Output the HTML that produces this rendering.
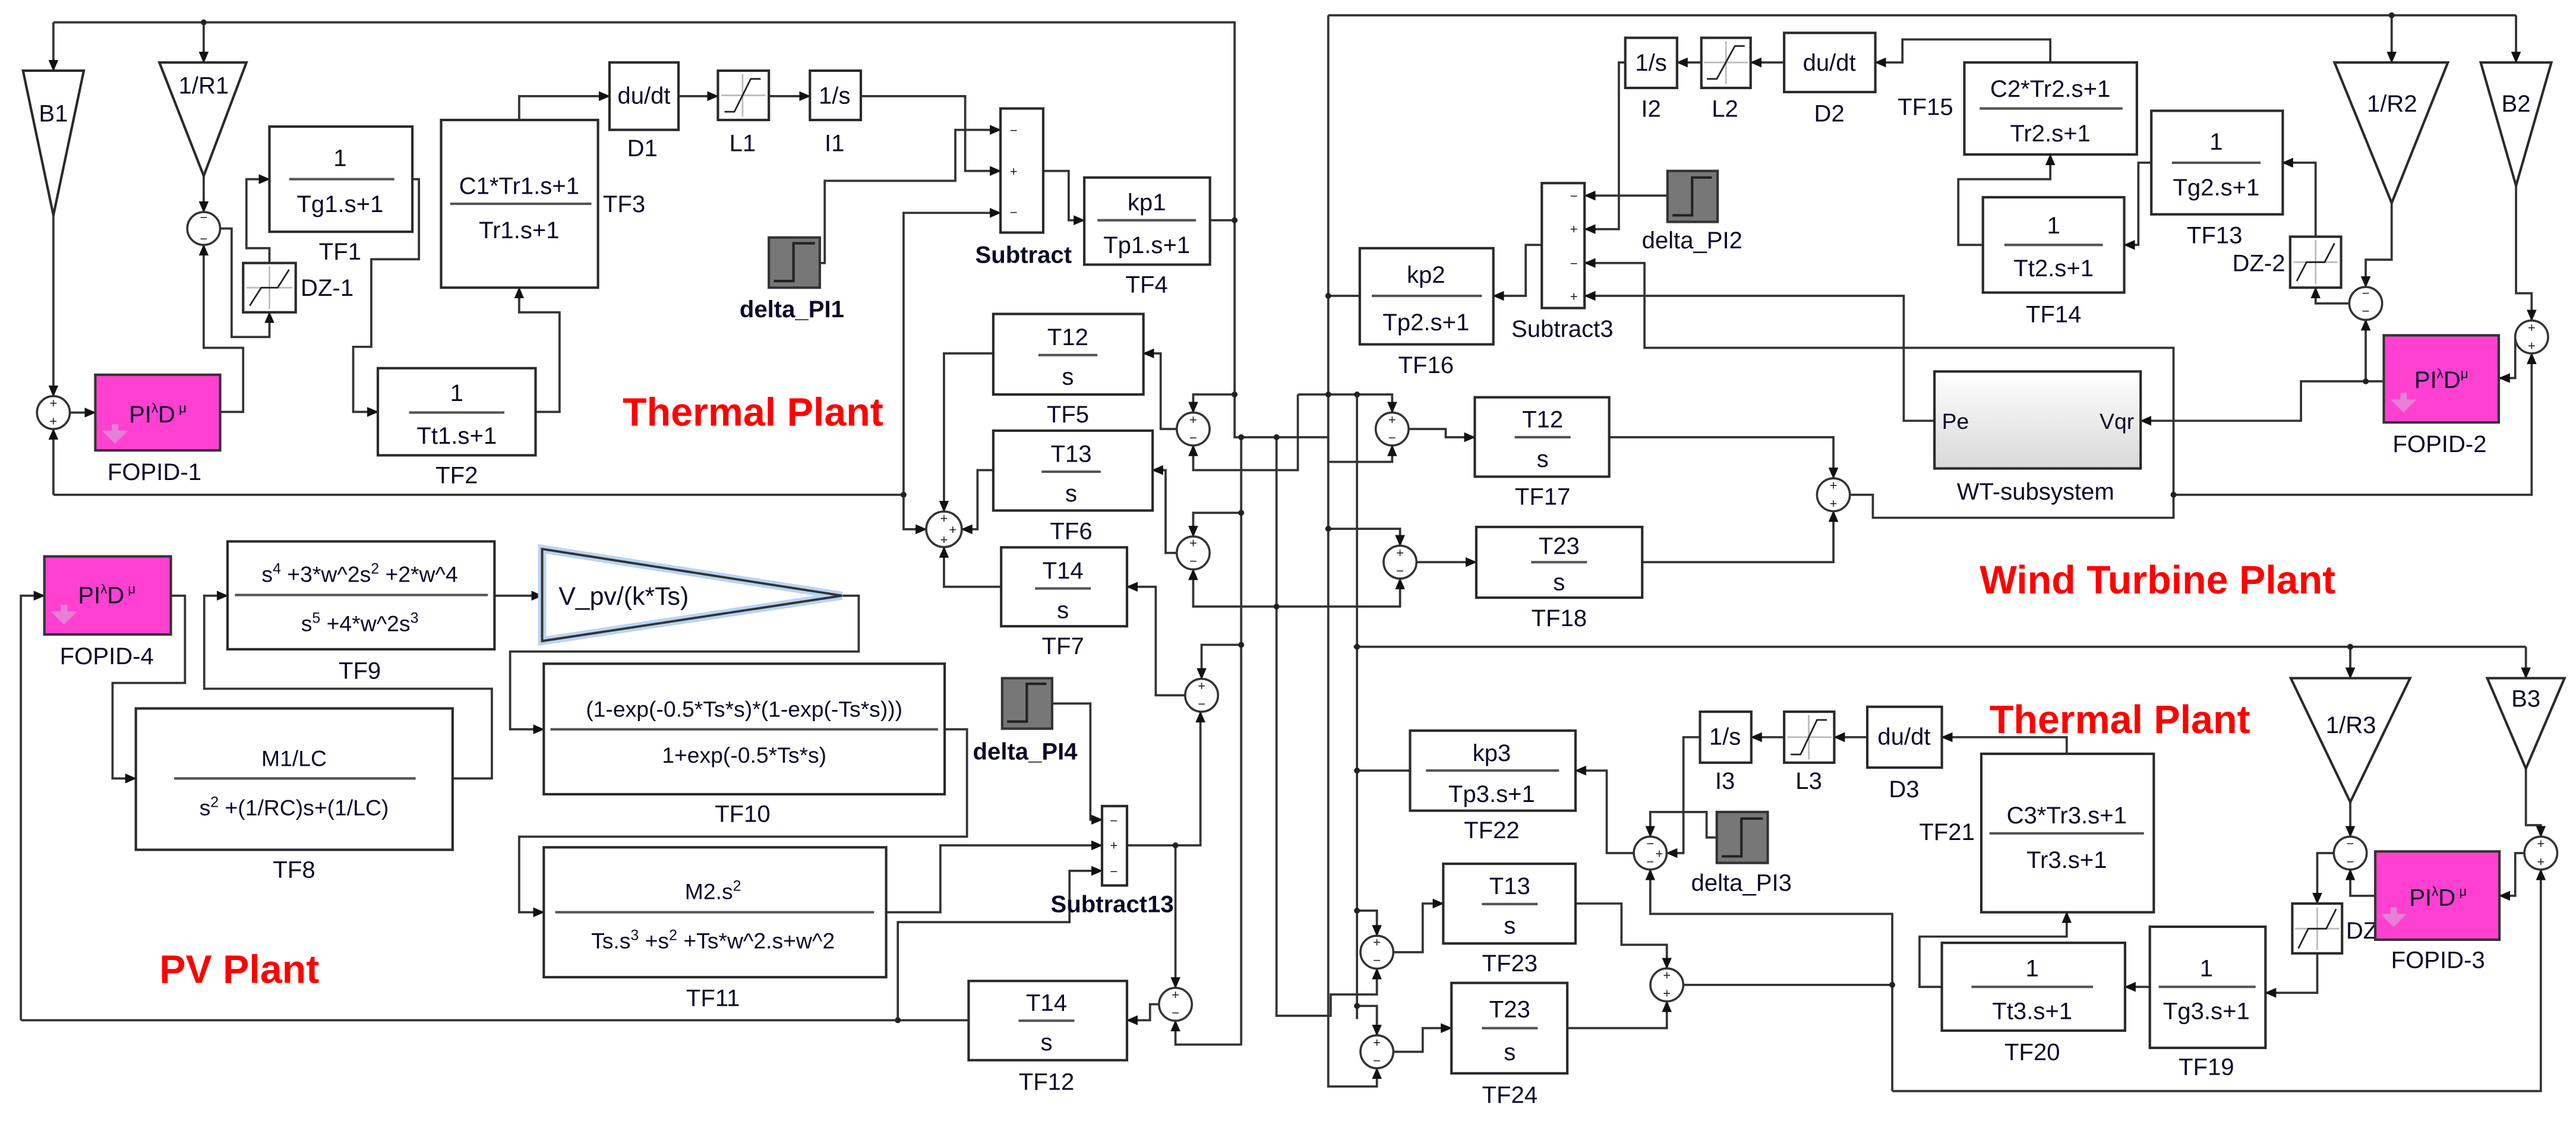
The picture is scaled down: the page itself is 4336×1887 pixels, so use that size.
<!DOCTYPE html>
<html><head><meta charset="utf-8"><style>
html,body{margin:0;padding:0;background:#fff;}
svg{display:block;}
text{font-family:"Liberation Sans",Arial,sans-serif;fill:#0a0a28;}
.b{fill:#fff;stroke:#2a2a2a;stroke-width:1.5;}
.w{fill:none;stroke:#333;stroke-width:1.35;}
.wa{fill:none;stroke:#333;stroke-width:1.35;marker-end:url(#ar);}
.fl{stroke:#555;stroke-width:1.5;}
.t{font-size:14.5px;text-anchor:middle;}
.lb{font-size:14.5px;text-anchor:middle;}
.red{font-size:24px;font-weight:bold;fill:#ff0000;}
.sg{font-size:8px;text-anchor:middle;fill:#222;}
.fo{fill:#ff40d0;stroke:#333;stroke-width:1.5;}
.st{fill:#777;stroke:#333;stroke-width:1.5;}
.c{fill:#fff;stroke:#333;stroke-width:1.3;}
.dot{fill:#222;}
</style></head><body>
<svg width="4336" height="1887" viewBox="0 0 1568 682" preserveAspectRatio="none" xmlns="http://www.w3.org/2000/svg">
<defs>
<marker id="ar" markerUnits="userSpaceOnUse" markerWidth="7" markerHeight="6" refX="6.5" refY="3" orient="auto"><path d="M0,0 L7,3 L0,6 z" fill="#111"/></marker>
<linearGradient id="gr" x1="0" y1="0" x2="0" y2="1"><stop offset="0" stop-color="#fff"/><stop offset="1" stop-color="#d8d8d8"/></linearGradient>
</defs>

<path class="w" d="M32.5,13.6 H751.5 V266 H808.5"/>
<path class="wa" d="M808.5,266 V281 H847.4 V271"/>
<path class="wa" d="M32.5,13.6 V43"/>
<path class="wa" d="M124,13.6 V38"/>
<path class="wa" d="M32.5,131 V241"/>
<path class="wa" d="M124,107 V129"/>
<path class="wa" d="M32.5,301 V261"/>
<path class="w" d="M32.5,301 H550"/>
<path class="wa" d="M42.5,251 H58"/>
<path class="wa" d="M134,250.6 H148 V211.6 H124 V149"/>
<path class="wa" d="M134,139 H141 V205 H164 V190"/>
<path class="wa" d="M164,160 V151 H150 V109 H164"/>
<path class="wa" d="M251,109 H255 V157.7 H226 V211 H215 V250.6 H230"/>
<path class="wa" d="M326,250.6 H340.6 V190 H316 V175"/>
<path class="wa" d="M316,73 V58.5 H371"/>
<path class="wa" d="M413,58.5 H437"/>
<path class="wa" d="M468,58.5 H493"/>
<path class="wa" d="M524,58.5 H587.5 V104 H609"/>
<path class="wa" d="M499,160 H502 V110 H581.5 V79 H609"/>
<path class="wa" d="M550,301 V129.5 H609"/>
<path class="wa" d="M550,301 V322 H563.8"/>
<path class="wa" d="M635,104 H650.5 V134 H660"/>
<path class="w" d="M736.5,134 H751.5"/>
<path class="wa" d="M604.6,215 H574.6 V311.2"/>
<path class="wa" d="M604.6,286 H595 V322 H585.4"/>
<path class="wa" d="M609.4,357 H574.6 V332.8"/>
<path class="wa" d="M751.5,240 H726.3 V251"/>
<path class="wa" d="M716.3,261 H706.5 V215 H696"/>
<path class="wa" d="M790,240 V286 H726.3 V271"/>
<path class="wa" d="M790,240 H847.4 V251"/>
<path class="wa" d="M755.5,312 H726.3 V326.4"/>
<path class="wa" d="M716.3,336.4 H709.5 V286 H701.5"/>
<path class="wa" d="M777,369 H726.3 V346.4"/>
<path class="wa" d="M777,369 H852.2 V352"/>
<path class="wa" d="M755.5,392.3 H731.4 V413"/>
<path class="wa" d="M721.4,423 H703.5 V357 H686"/>
<path class="wa" d="M686,514.3 H730.7 V433"/>
<path class="wa" d="M715.5,514.3 V601"/>
<path class="wa" d="M705.5,611 H700 V620.7 H686"/>
<path class="wa" d="M756,635.5 H715.5 V621"/>
<path class="w" d="M755.5,266 V635.5"/>
<path class="wa" d="M777,266 V618 H810 V605 H838.1 V589.3"/>
<path class="wa" d="M808.5,9.3 V661 H838.1 V649.9"/>
<path class="w" d="M826,240 V620"/>
<path class="wa" d="M826,554 H838.1 V569.3"/>
<path class="wa" d="M826,612 H838.1 V629.9"/>

<path class="wa" d="M12.7,620.7 V362.4 H27"/>
<path class="wa" d="M104,362.4 H112.6 V415.5 H68.5 V473.6 H82.7"/>
<path class="wa" d="M275.5,473.6 H299.4 V419 H124.3 V362.4 H138.5"/>
<path class="wa" d="M301,362.4 H330"/>
<path class="wa" d="M512.5,362.4 H522.7 V396.4 H310.5 V443.7 H331"/>
<path class="wa" d="M575,443.7 H588.6 V509 H316 V555 H331"/>
<path class="wa" d="M539.4,555 H572.4 V514.3 H670.8"/>
<path class="wa" d="M640.4,428 H663.7 V498.7 H670.8"/>
<path class="w" d="M589.6,620.7 H12.7"/>
<path class="wa" d="M546.5,620.7 V561 H651 V529.8 H670.8"/>

<path class="w" d="M808.5,9.3 H1531.5"/>
<path class="wa" d="M1531.5,9.3 V38"/>
<path class="wa" d="M1455.8,9.3 V38"/>
<path class="wa" d="M808.5,321.7 H852.2 V332"/>
<path class="wa" d="M862.2,342 H898.6"/>
<path class="wa" d="M999.5,342 H1116 V311"/>
<path class="wa" d="M857.4,261 H880 V266 H897.7"/>
<path class="wa" d="M979.5,266 H1116 V291"/>
<path class="wa" d="M1126,301 H1140 V315 H1323 V211.6 H1001 V160 H964.7"/>
<path class="wa" d="M1323,301 H1541 V215"/>
<path class="wa" d="M1177.5,256 H1158.8 V180 H964.7"/>
<path class="wa" d="M1440,232 H1400.6 V256 H1303"/>
<path class="wa" d="M1451,232 H1440 V194.6"/>
<path class="wa" d="M989.3,38 H985.4 V139.4 H964.7"/>
<path class="wa" d="M1035.6,38 H1020.8"/>
<path class="wa" d="M1086,38 H1065.7"/>
<path class="wa" d="M1248,38 V24 H1158 V38 H1141.5"/>
<path class="wa" d="M1015,119 H964.7"/>
<path class="wa" d="M938.5,149 H928.7 V180 H909"/>
<path class="w" d="M827.7,180 H808.5"/>
<path class="wa" d="M1207,149 H1192 V109 H1248 V94"/>
<path class="wa" d="M1309.5,99 H1301.6 V149 H1293"/>
<path class="wa" d="M1409.5,144 V99 H1389.3"/>
<path class="wa" d="M1430,184.6 H1409.5 V175"/>
<path class="wa" d="M1455.8,123.5 V158 H1440 V174.6"/>
<path class="wa" d="M1531.5,113 V178.4 H1541 V195"/>
<path class="wa" d="M1531,205 V230 H1521.3"/>

<path class="w" d="M824,393.5 H1537.5"/>
<path class="wa" d="M1537.5,393.5 V412.6"/>
<path class="wa" d="M1430.6,393.5 V412.6"/>
<path class="wa" d="M848.1,579.3 H866 V549.7 H878.5"/>
<path class="wa" d="M848.1,639.9 H866 V625.5 H883.5"/>
<path class="wa" d="M959,549.7 H987 V574.8 H1014.6 V589.2"/>
<path class="wa" d="M954,625.5 H1014.6 V609.2"/>
<path class="w" d="M1024.6,599.2 H1151.8"/>
<path class="wa" d="M1151.8,663.8 V556 H1004.5 V529"/>
<path class="wa" d="M1151.8,663.8 H1546.6 V529"/>
<path class="wa" d="M994.5,519 H978 V468.8 H959"/>
<path class="w" d="M858.3,468.8 H826"/>
<path class="wa" d="M1034.8,448.5 H1024.7 V519 H1014.5"/>
<path class="wa" d="M1045,509.5 H1038.8 V494 H1004.5 V509"/>
<path class="wa" d="M1086,448.5 H1066"/>
<path class="wa" d="M1136.6,448.5 H1116.5"/>
<path class="wa" d="M1258,458.6 V448.5 H1182"/>
<path class="wa" d="M1182,600.4 H1168.4 V569.8 H1258 V555"/>
<path class="wa" d="M1308.6,600.4 H1293.5"/>
<path class="wa" d="M1410.5,580 V604 H1379"/>
<path class="wa" d="M1420.6,519 H1410.5 V549.7"/>
<path class="wa" d="M1445.8,545 H1430.6 V529"/>
<path class="wa" d="M1536.6,519 H1531 V545 H1521.4"/>
<path class="wa" d="M1430.6,488 V509"/>
<path class="wa" d="M1537.5,467.6 V502 H1546.6 V509"/>

<g class="dot">
<circle cx="124" cy="13.6" r="1.8"/><circle cx="550" cy="301" r="1.8"/><circle cx="751.5" cy="134" r="1.8"/>
<circle cx="751.5" cy="240" r="1.8"/><circle cx="755.5" cy="266" r="1.8"/><circle cx="777" cy="266" r="1.8"/>
<circle cx="755.5" cy="312" r="1.8"/><circle cx="755.5" cy="392.3" r="1.8"/><circle cx="777" cy="369" r="1.8"/>
<circle cx="808.5" cy="240" r="1.8"/><circle cx="826" cy="240" r="1.8"/><circle cx="808.5" cy="180" r="1.8"/>
<circle cx="808.5" cy="321.7" r="1.8"/><circle cx="826" cy="393.5" r="1.8"/><circle cx="826" cy="468.8" r="1.8"/>
<circle cx="826" cy="554" r="1.8"/><circle cx="826" cy="612" r="1.8"/><circle cx="715.5" cy="514.3" r="1.8"/>
<circle cx="546.5" cy="620.7" r="1.8"/><circle cx="1455.8" cy="9.3" r="1.8"/><circle cx="1440" cy="232" r="1.8"/>
<circle cx="1323" cy="301" r="1.8"/><circle cx="1430.6" cy="393.5" r="1.8"/><circle cx="1151.8" cy="599.2" r="1.8"/>
</g>

<polygon class="b" points="14,43 51,43 32.5,131"/><text class="t" x="32.5" y="74">B1</text>
<polygon class="b" points="97,38 150,38 124,107"/><text class="t" x="124" y="57">1/R1</text>
<circle class="c" cx="124" cy="139" r="10"/><text class="sg" x="124" y="135">−</text><text class="sg" x="124" y="148">−</text>
<rect class="b" x="164" y="77" width="87" height="64"/><text class="t" x="207" y="101">1</text><line class="fl" x1="176" y1="109" x2="240" y2="109"/><text class="t" x="207" y="129">Tg1.s+1</text>
<text class="lb" x="207" y="158">TF1</text>
<rect class="b" x="148" y="160" width="32" height="30"/><line x1="164" y1="162" x2="164" y2="188" stroke="#bbb"/><line x1="150" y1="175" x2="178" y2="175" stroke="#bbb"/><polyline fill="none" stroke="#222" points="152,186 159,175 169,175 176,164"/>
<text x="183" y="180" style="font-size:14.5px">DZ-1</text>
<rect class="b" x="268.5" y="73" width="95.5" height="102"/><text class="t" x="316" y="118">C1*Tr1.s+1</text><line class="fl" x1="274" y1="124" x2="360" y2="124"/><text class="t" x="316" y="145">Tr1.s+1</text>
<text x="367" y="129" style="font-size:14.5px">TF3</text>
<rect class="b" x="371" y="38" width="42" height="41"/><text class="t" x="392" y="63">du/dt</text><text class="lb" x="391" y="95">D1</text>
<rect class="b" x="437" y="43" width="31" height="30"/><line x1="452" y1="45" x2="452" y2="71" stroke="#bbb"/><line x1="439" y1="58" x2="466" y2="58" stroke="#bbb"/><polyline fill="none" stroke="#222" points="441,68 447,68 457,48 463,48"/><text class="lb" x="452" y="92">L1</text>
<rect class="b" x="493" y="43" width="31" height="30"/><text class="t" x="508" y="63">1/s</text><text class="lb" x="508" y="92">I1</text>
<rect class="fo" x="58" y="228" width="76" height="46"/><text x="96" y="257" style="font-size:14.5px;text-anchor:middle">PI<tspan font-size="8" dy="-6">λ</tspan><tspan dy="6">D</tspan><tspan font-size="8" dy="-6"> μ</tspan></text>
<path d="M62,262 h6 v-4 h4 v4 h6 l-8,8 z" fill="#e090d8" opacity="0.8"/>
<text class="lb" x="94" y="292">FOPID-1</text>
<circle class="c" cx="32.5" cy="251" r="10"/><text class="sg" x="32.5" y="248">+</text><text class="sg" x="32.5" y="259">+</text>
<rect class="b" x="230" y="224" width="96" height="53"/><text class="t" x="278" y="244">1</text><line class="fl" x1="249" y1="251" x2="307" y2="251"/><text class="t" x="278" y="270">Tt1.s+1</text><text class="lb" x="278" y="294">TF2</text>
<text class="red" x="379" y="259">Thermal Plant</text>
<rect class="b" x="609" y="66" width="26" height="75.5"/><text class="sg" x="617" y="82">−</text><text class="sg" x="617" y="107">+</text><text class="sg" x="617" y="132">−</text>
<text class="lb" x="623" y="160" style="font-weight:bold">Subtract</text>
<rect class="st" x="468" y="144.5" width="31" height="30.5"/><polyline fill="none" stroke="#222" stroke-width="1.5" points="471,171 483,171 483,148 496,148"/>
<text class="lb" x="482" y="193" style="font-weight:bold">delta_PI1</text>
<rect class="b" x="660" y="108" width="76.5" height="53"/><text class="t" x="698" y="128">kp1</text><line class="fl" x1="668" y1="134" x2="728" y2="134"/><text class="t" x="698" y="154">Tp1.s+1</text><text class="lb" x="698" y="178">TF4</text>
<rect class="b" x="604.6" y="191" width="91.4" height="49"/><text class="t" x="650" y="210">T12</text><line class="fl" x1="632" y1="216" x2="668" y2="216"/><text class="t" x="650" y="234">s</text><text class="lb" x="650" y="257">TF5</text>
<rect class="b" x="604.6" y="262" width="97" height="48.6"/><text class="t" x="652" y="281">T13</text><line class="fl" x1="634" y1="287" x2="670" y2="287"/><text class="t" x="652" y="305">s</text><text class="lb" x="652" y="328">TF6</text>
<rect class="b" x="609.4" y="333" width="76.6" height="48"/><text class="t" x="647" y="352">T14</text><line class="fl" x1="630" y1="358" x2="664" y2="358"/><text class="t" x="647" y="376">s</text><text class="lb" x="647" y="398">TF7</text>
<circle class="c" cx="574.6" cy="322" r="10.8"/><text class="sg" x="574.6" y="318">+</text><text class="sg" x="580" y="325">+</text><text class="sg" x="574.6" y="331">+</text>
<circle class="c" cx="726.3" cy="261" r="10"/><text class="sg" x="726.3" y="258">+</text><text class="sg" x="726.3" y="269">−</text>
<circle class="c" cx="726.3" cy="336.4" r="10"/><text class="sg" x="726.3" y="333">+</text><text class="sg" x="726.3" y="344">−</text>
<circle class="c" cx="731.4" cy="423" r="10"/><text class="sg" x="731.4" y="420">+</text><text class="sg" x="731.4" y="431">−</text>

<rect class="fo" x="27" y="338.5" width="77" height="47.5"/><text x="65" y="367" style="font-size:14.5px;text-anchor:middle">PI<tspan font-size="8" dy="-6">λ</tspan><tspan dy="6">D</tspan><tspan font-size="8" dy="-6"> μ</tspan></text>
<path d="M31,372 h6 v-4 h4 v4 h6 l-8,8 z" fill="#e090d8" opacity="0.8"/>
<text class="lb" x="65" y="404">FOPID-4</text>
<rect class="b" x="138.5" y="329.4" width="162.5" height="65.6"/>
<text class="t" x="219" y="354" style="font-size:13.5px">s<tspan font-size="9" dy="-5">4</tspan><tspan dy="5"> +3*w^2s</tspan><tspan font-size="9" dy="-5">2</tspan><tspan dy="5"> +2*w^4</tspan></text>
<line class="fl" x1="143" y1="362" x2="297" y2="362"/>
<text class="t" x="219" y="384" style="font-size:13.5px">s<tspan font-size="9" dy="-5">5</tspan><tspan dy="5"> +4*w^2s</tspan><tspan font-size="9" dy="-5">3</tspan></text>
<text class="lb" x="219" y="413">TF9</text>
<polygon points="330,334 512.5,362.4 330,390" fill="#fff" stroke="#b8d4f4" stroke-width="5"/>
<polygon points="330,334 512.5,362.4 330,390" fill="none" stroke="#333" stroke-width="1.4"/>
<text x="340" y="368" style="font-size:15.5px">V_pv/(k*Ts)</text>
<rect class="b" x="331" y="403.8" width="244" height="79.4"/><text class="t" x="453" y="436" style="font-size:13.5px">(1-exp(-0.5*Ts*s)*(1-exp(-Ts*s)))</text><line class="fl" x1="335" y1="443.7" x2="571" y2="443.7"/><text class="t" x="453" y="464" style="font-size:13.5px">1+exp(-0.5*Ts*s)</text>
<text class="lb" x="452" y="500">TF10</text>
<rect class="b" x="82.7" y="431" width="192.8" height="86"/><text class="t" x="179" y="466" style="font-size:13.5px">M1/LC</text><line class="fl" x1="106" y1="473.6" x2="253" y2="473.6"/>
<text class="t" x="179" y="496" style="font-size:13.5px">s<tspan font-size="9" dy="-5">2</tspan><tspan dy="5"> +(1/RC)s+(1/LC)</tspan></text>
<text class="lb" x="179" y="534">TF8</text>
<rect class="b" x="331" y="515.5" width="208.4" height="79"/><text class="t" x="434" y="547" style="font-size:13.5px">M2.s<tspan font-size="9" dy="-5">2</tspan></text><line class="fl" x1="338" y1="555" x2="532" y2="555"/>
<text class="t" x="434" y="577" style="font-size:13.5px">Ts.s<tspan font-size="9" dy="-5">3</tspan><tspan dy="5"> +s</tspan><tspan font-size="9" dy="-5">2</tspan><tspan dy="5"> +Ts*w^2.s+w^2</tspan></text>
<text class="lb" x="434" y="612">TF11</text>
<rect class="st" x="610" y="412.6" width="30.4" height="30.7"/><polyline fill="none" stroke="#222" stroke-width="1.5" points="613,439 625,439 625,416 637,416"/>
<text class="lb" x="624" y="462" style="font-weight:bold">delta_PI4</text>
<rect class="b" x="670.8" y="490.4" width="15.2" height="48.3"/><text class="sg" x="678" y="502">−</text><text class="sg" x="678" y="517">+</text><text class="sg" x="678" y="533">−</text>
<text class="lb" x="677" y="555" style="font-weight:bold">Subtract13</text>
<rect class="b" x="589.6" y="596.8" width="96.4" height="48.2"/><text class="t" x="637" y="615">T14</text><line class="fl" x1="620" y1="621" x2="654" y2="621"/><text class="t" x="637" y="639">s</text><text class="lb" x="637" y="663">TF12</text>
<circle class="c" cx="715.5" cy="611" r="10"/><text class="sg" x="715.5" y="608">+</text><text class="sg" x="715.5" y="619">−</text>
<text class="red" x="97" y="598">PV Plant</text>

<rect class="b" x="989.3" y="23" width="31.5" height="30.5"/><text class="t" x="1005" y="43">1/s</text><text class="lb" x="1005" y="71">I2</text>
<rect class="b" x="1035.6" y="23" width="30" height="30.5"/><line x1="1050.6" y1="25" x2="1050.6" y2="51" stroke="#bbb"/><line x1="1037" y1="38" x2="1064" y2="38" stroke="#bbb"/><polyline fill="none" stroke="#222" points="1039,48 1045,48 1056,28 1062,28"/><text class="lb" x="1050" y="71">L2</text>
<rect class="b" x="1086" y="20" width="55.5" height="36"/><text class="t" x="1113.5" y="43">du/dt</text><text class="lb" x="1113.5" y="74">D2</text>
<text class="lb" x="1172" y="70">TF15</text>
<rect class="b" x="1195.7" y="38" width="105" height="56"/><text class="t" x="1248" y="59">C2*Tr2.s+1</text><line class="fl" x1="1205" y1="66" x2="1292" y2="66"/><text class="t" x="1248" y="86">Tr2.s+1</text>
<rect class="b" x="1309.5" y="67.4" width="80" height="63"/><text class="t" x="1349" y="91">1</text><line class="fl" x1="1322" y1="99" x2="1376" y2="99"/><text class="t" x="1349" y="119">Tg2.s+1</text><text class="lb" x="1348" y="148">TF13</text>
<rect class="b" x="1207" y="120" width="86" height="58"/><text class="t" x="1250" y="142">1</text><line class="fl" x1="1220" y1="149" x2="1280" y2="149"/><text class="t" x="1250" y="168">Tt2.s+1</text><text class="lb" x="1250" y="196">TF14</text>
<rect class="b" x="1394" y="144" width="31" height="31"/><line x1="1409.5" y1="146" x2="1409.5" y2="173" stroke="#bbb"/><line x1="1396" y1="159.5" x2="1423" y2="159.5" stroke="#bbb"/><polyline fill="none" stroke="#222" points="1398,171 1404,159.5 1415,159.5 1421,148"/>
<text x="1391" y="165" style="font-size:14.5px;text-anchor:end">DZ-2</text>
<polygon class="b" points="1421,38 1490,38 1455.8,123.5"/><text class="t" x="1456" y="68">1/R2</text>
<polygon class="b" points="1510,38 1553,38 1531.5,113"/><text class="t" x="1531.5" y="68">B2</text>
<circle class="c" cx="1440" cy="184.6" r="10"/><text class="sg" x="1440" y="181">−</text><text class="sg" x="1440" y="192">−</text>
<circle class="c" cx="1541" cy="205" r="10"/><text class="sg" x="1541" y="202">+</text><text class="sg" x="1541" y="213">+</text>
<rect class="fo" x="1451" y="204" width="70" height="53"/><text x="1486" y="236" style="font-size:14.5px;text-anchor:middle">PI<tspan font-size="8" dy="-6">λ</tspan><tspan dy="6">D</tspan><tspan font-size="8" dy="-6">μ</tspan></text>
<path d="M1455,243 h6 v-4 h4 v4 h6 l-8,8 z" fill="#e090d8" opacity="0.8"/>
<text class="lb" x="1485" y="275">FOPID-2</text>
<rect x="1177.5" y="226" width="125.5" height="59" fill="url(#gr)" stroke="#2a2a2a" stroke-width="1.5"/>
<text x="1182" y="261" style="font-size:13.5px">Pe</text><text x="1299" y="261" style="font-size:13.5px;text-anchor:end">Vqr</text>
<text class="lb" x="1239" y="304">WT-subsystem</text>
<rect class="b" x="938.5" y="111.4" width="26" height="76"/><text class="sg" x="958" y="122">−</text><text class="sg" x="958" y="142">+</text><text class="sg" x="958" y="163">−</text><text class="sg" x="958" y="183">+</text>
<text class="lb" x="951" y="205">Subtract3</text>
<rect class="st" x="1015" y="104" width="30.5" height="31"/><polyline fill="none" stroke="#222" stroke-width="1.5" points="1018,131 1030,131 1030,108 1042,108"/>
<text class="lb" x="1030" y="151">delta_PI2</text>
<rect class="b" x="827.7" y="151" width="81.3" height="58.5"/><text class="t" x="868" y="172">kp2</text><line class="fl" x1="835" y1="180" x2="902" y2="180"/><text class="t" x="868" y="201">Tp2.s+1</text><text class="lb" x="868" y="227">TF16</text>
<rect class="b" x="897.7" y="241.7" width="81.8" height="48.3"/><text class="t" x="939" y="260">T12</text><line class="fl" x1="922" y1="266" x2="956" y2="266"/><text class="t" x="939" y="284">s</text><text class="lb" x="939" y="307">TF17</text>
<circle class="c" cx="847.4" cy="261" r="10"/><text class="sg" x="847.4" y="258">+</text><text class="sg" x="847.4" y="269">−</text>
<circle class="c" cx="1116" cy="301" r="10"/><text class="sg" x="1116" y="298">+</text><text class="sg" x="1116" y="309">+</text>
<rect class="b" x="898.6" y="320.6" width="101" height="43"/><text class="t" x="949" y="337">T23</text><line class="fl" x1="932" y1="342" x2="966" y2="342"/><text class="t" x="949" y="359">s</text><text class="lb" x="949" y="381">TF18</text>
<circle class="c" cx="852.2" cy="342" r="10"/><text class="sg" x="852.2" y="339">+</text><text class="sg" x="852.2" y="350">−</text>
<text class="red" x="1205" y="361">Wind Turbine Plant</text>

<polygon class="b" points="1394.4,412.6 1467,412.6 1430.6,488"/><text class="t" x="1431" y="446">1/R3</text>
<polygon class="b" points="1514,412.6 1561,412.6 1537.5,467.6"/><text class="t" x="1537.5" y="430">B3</text>
<text class="red" x="1211" y="446">Thermal Plant</text>
<rect class="b" x="1034.8" y="433" width="31.2" height="31"/><text class="t" x="1050" y="453">1/s</text><text class="lb" x="1050" y="480">I3</text>
<rect class="b" x="1086" y="433" width="30.5" height="31"/><line x1="1101" y1="435" x2="1101" y2="462" stroke="#bbb"/><line x1="1088" y1="448.5" x2="1115" y2="448.5" stroke="#bbb"/><polyline fill="none" stroke="#222" points="1090,459 1096,459 1106,438 1112,438"/><text class="lb" x="1101" y="480">L3</text>
<rect class="b" x="1136.6" y="430" width="45.4" height="37"/><text class="t" x="1159" y="453">du/dt</text><text class="lb" x="1159" y="485">D3</text>
<rect class="b" x="1206" y="458.6" width="105" height="96.4"/><text class="t" x="1258" y="501">C3*Tr3.s+1</text><line class="fl" x1="1211" y1="507" x2="1305" y2="507"/><text class="t" x="1258" y="528">Tr3.s+1</text>
<text x="1202" y="511" style="font-size:14.5px;text-anchor:end">TF21</text>
<rect class="b" x="858.3" y="444.5" width="100.7" height="48.7"/><text class="t" x="908" y="463">kp3</text><line class="fl" x1="868" y1="468.8" x2="949" y2="468.8"/><text class="t" x="908" y="488">Tp3.s+1</text><text class="lb" x="908" y="510">TF22</text>
<circle class="c" cx="1004.5" cy="519" r="10"/><text class="sg" x="1004.5" y="516">−</text><text class="sg" x="1010" y="522">+</text><text class="sg" x="1004.5" y="527">−</text>
<rect class="st" x="1045" y="494" width="31" height="31"/><polyline fill="none" stroke="#222" stroke-width="1.5" points="1048,521 1060,521 1060,498 1073,498"/>
<text class="lb" x="1060" y="542">delta_PI3</text>
<rect class="b" x="878.5" y="525.5" width="80.5" height="48.5"/><text class="t" x="919" y="544">T13</text><line class="fl" x1="902" y1="550" x2="936" y2="550"/><text class="t" x="919" y="568">s</text><text class="lb" x="919" y="591">TF23</text>
<rect class="b" x="883.5" y="598" width="70.5" height="55"/><text class="t" x="919" y="619">T23</text><line class="fl" x1="902" y1="625.5" x2="936" y2="625.5"/><text class="t" x="919" y="645">s</text><text class="lb" x="919" y="671">TF24</text>
<circle class="c" cx="838.1" cy="579.3" r="10"/><text class="sg" x="838.1" y="576">+</text><text class="sg" x="838.1" y="587">−</text>
<circle class="c" cx="838.1" cy="639.9" r="10"/><text class="sg" x="838.1" y="637">+</text><text class="sg" x="838.1" y="648">−</text>
<circle class="c" cx="1014.6" cy="599.2" r="10"/><text class="sg" x="1014.6" y="596">+</text><text class="sg" x="1014.6" y="607">+</text>
<rect class="b" x="1182" y="573.6" width="111.5" height="53.4"/><text class="t" x="1237" y="594">1</text><line class="fl" x1="1200" y1="600.4" x2="1274" y2="600.4"/><text class="t" x="1237" y="620">Tt3.s+1</text><text class="lb" x="1237" y="645">TF20</text>
<rect class="b" x="1308.6" y="563.8" width="70.4" height="73.7"/><text class="t" x="1343" y="594">1</text><line class="fl" x1="1314" y1="600.4" x2="1373" y2="600.4"/><text class="t" x="1343" y="620">Tg3.s+1</text><text class="lb" x="1343" y="654">TF19</text>
<rect class="b" x="1395.3" y="549.7" width="30.3" height="30.3"/><line x1="1410.5" y1="552" x2="1410.5" y2="578" stroke="#bbb"/><line x1="1397" y1="565" x2="1424" y2="565" stroke="#bbb"/><polyline fill="none" stroke="#222" points="1399,577 1405,565 1416,565 1422,553"/>
<text x="1428" y="571" style="font-size:14.5px">DZ</text>
<circle class="c" cx="1430.6" cy="519" r="10"/><text class="sg" x="1430.6" y="516">−</text><text class="sg" x="1430.6" y="527">−</text>
<circle class="c" cx="1546.6" cy="519" r="10"/><text class="sg" x="1546.6" y="516">+</text><text class="sg" x="1546.6" y="527">+</text>
<rect class="fo" x="1445.8" y="518" width="75.6" height="53.7"/><text x="1484" y="551" style="font-size:14.5px;text-anchor:middle">PI<tspan font-size="8" dy="-6">λ</tspan><tspan dy="6">D</tspan><tspan font-size="8" dy="-6"> μ</tspan></text>
<path d="M1449,556 h6 v-4 h4 v4 h6 l-8,8 z" fill="#e090d8" opacity="0.8"/>
<text class="lb" x="1484" y="589">FOPID-3</text>
</svg>
</body></html>
